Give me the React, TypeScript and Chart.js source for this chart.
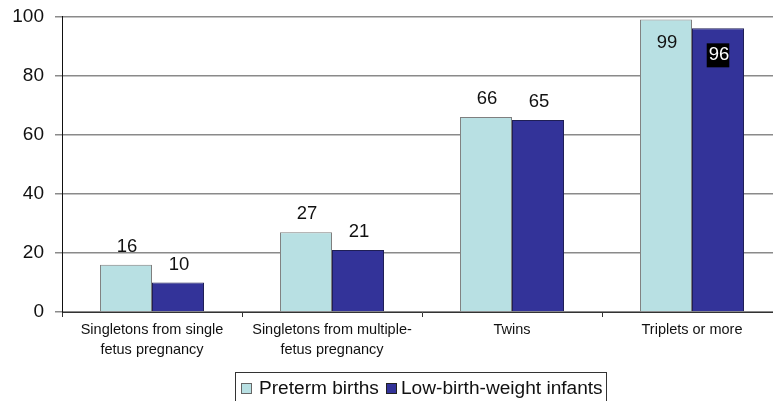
import React, { useEffect, useRef } from "react";
import { Chart, registerables } from "chart.js";

Chart.register(...registerables);

const categories: string[][] = [
  ["Singletons from single", "fetus pregnancy"],
  ["Singletons from multiple-", "fetus pregnancy"],
  ["Twins"],
  ["Triplets or more"],
];
const pretermBirths: number[] = [16, 27, 66, 99];
const lowBirthWeight: number[] = [10, 21, 65, 96];
const yTicks: number[] = [0, 20, 40, 60, 80, 100];
const seriesNames: string[] = ["Preterm births", "Low-birth-weight infants"];

const LIGHT = "#b8e0e3";
const DARK = "#333399";
const FONT = "'Liberation Sans', Arial, sans-serif";

const labelPlugin = {
  id: "valueLabels",
  afterDatasetsDraw(chart: any) {
    const ctx = chart.ctx;
    ctx.save();
    ctx.font = `18.5px ${FONT}`;
    ctx.textAlign = "center";
    ctx.textBaseline = "middle";
    chart.data.datasets.forEach((ds: any, di: number) => {
      const meta = chart.getDatasetMeta(di);
      meta.data.forEach((bar: any, i: number) => {
        const v = ds.data[i];
        const text = String(v);
        if (v > 90) {
          const y = bar.y + (di === 0 ? 23 : 27);
          if (di === 1) {
            const w = ctx.measureText(text).width + 2;
            ctx.fillStyle = "#000";
            ctx.fillRect(bar.x - w / 2, y - 12, w, 24);
            ctx.fillStyle = "#fff";
          } else {
            ctx.fillStyle = "#111";
          }
          ctx.fillText(text, bar.x + 1, y);
        } else {
          ctx.fillStyle = "#111";
          ctx.fillText(text, bar.x + 1, bar.y - 18);
        }
      });
    });
    ctx.restore();
  },
};

export default function App() {
  const ref = useRef<HTMLCanvasElement | null>(null);
  useEffect(() => {
    if (!ref.current) return;
    const chart = new Chart(ref.current, {
      type: "bar",
      data: {
        labels: categories,
        datasets: [
          {
            label: seriesNames[0],
            data: pretermBirths,
            backgroundColor: LIGHT,
            borderColor: "#7f7f7f",
            borderWidth: 1,
          },
          {
            label: seriesNames[1],
            data: lowBirthWeight,
            backgroundColor: DARK,
            borderColor: "#1f1f55",
            borderWidth: 1,
          },
        ],
      },
      options: {
        responsive: false,
        animation: false,
        datasets: { bar: { categoryPercentage: 0.578, barPercentage: 1 } },
        layout: { padding: { top: 16.5, right: 18, left: 0, bottom: 0 } },
        plugins: {
          legend: { display: false },
          tooltip: { enabled: false },
        },
        scales: {
          x: {
            afterFit(scale: any) {
              scale.height = 89;
              scale.paddingLeft = 0;
              scale.paddingRight = 0;
            },
            grid: {
              offset: true,
              drawOnChartArea: false,
              drawTicks: true,
              tickLength: 5,
              color: "#333",
            },
            border: { color: "#333", width: 1 },
            ticks: {
              color: "#111",
              font: { family: FONT, size: 14.5, lineHeight: 1.4 },
              padding: 3,
              maxRotation: 0,
              autoSkip: false,
            },
          },
          y: {
            min: 0,
            max: 100,
            afterFit(scale: any) {
              scale.width = 62;
              scale.paddingTop = 0;
              scale.paddingBottom = 0;
            },
            afterBuildTicks(scale: any) {
              scale.ticks = yTicks.map((v) => ({ value: v }));
            },
            grid: {
              color: "#8a8a8a",
              lineWidth: 1.5,
              tickLength: 7,
            },
            border: { color: "#111", width: 1 },
            ticks: {
              color: "#111",
              font: { family: FONT, size: 19 },
              padding: 11,
            },
          },
        },
      },
      plugins: [labelPlugin],
    });
    return () => chart.destroy();
  }, []);

  const textStyle: React.CSSProperties = {
    position: "absolute",
    top: 378,
    lineHeight: "20px",
    fontSize: 19.1,
    fontFamily: FONT,
    color: "#111",
    whiteSpace: "nowrap",
  };
  const sq = (left: number, color: string, border: string): React.CSSProperties => ({
    position: "absolute",
    left,
    top: 383,
    width: 9,
    height: 9,
    background: color,
    border: `1px solid ${border}`,
  });

  return (
    <div
      style={{
        position: "fixed",
        left: 0,
        top: 0,
        width: 773,
        height: 401,
        overflow: "hidden",
        background: "#fff",
      }}
    >
      <canvas ref={ref} width={800} height={401} style={{ position: "absolute", left: 0, top: 0 }} />
      <div
        style={{
          position: "absolute",
          left: 235,
          top: 372,
          width: 372,
          height: 40,
          border: "1px solid #333",
          boxSizing: "border-box",
        }}
      />
      <div style={sq(241, LIGHT, "#666")} />
      <div style={{ ...textStyle, left: 259 }}>{seriesNames[0]}</div>
      <div style={sq(386, DARK, "#222")} />
      <div style={{ ...textStyle, left: 401 }}>{seriesNames[1]}</div>
    </div>
  );
}
